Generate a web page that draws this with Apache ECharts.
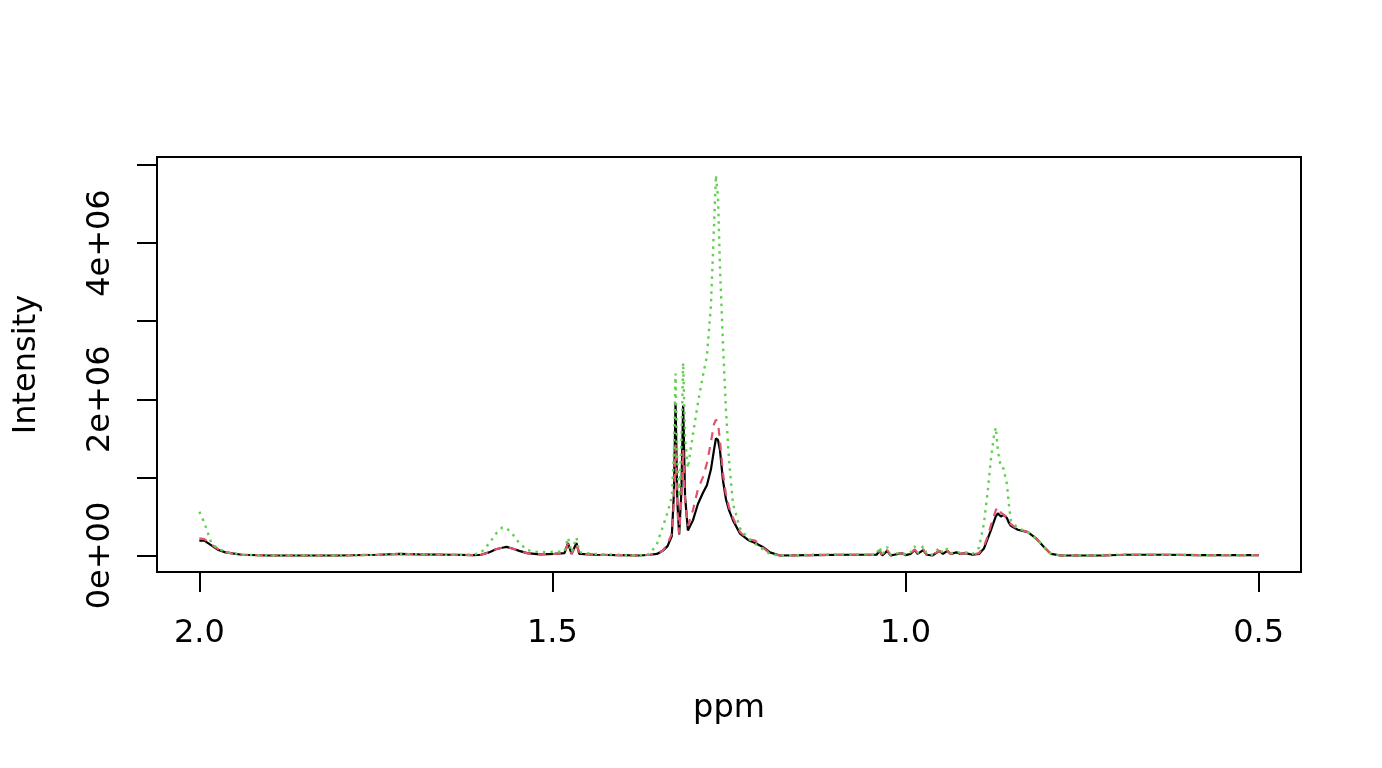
<!DOCTYPE html>
<html>
<head>
<meta charset="utf-8">
<script src="https://cdn.jsdelivr.net/npm/echarts@6/dist/echarts.min.js"></script>
<style>
  html, body { margin: 0; padding: 0; background: #ffffff; }
  #chart { width: 1382px; height: 768px; }
</style>
</head>
<body>
<div id="chart"></div>
<script>
// Chemical shift (ppm), shared by all three spectra
const ppm = [
  2.000, 1.993, 1.983, 1.973, 1.963, 1.940, 1.902, 1.859, 1.803, 1.746,
  1.717, 1.689, 1.646, 1.611, 1.601, 1.590, 1.580, 1.571, 1.565, 1.557,
  1.547, 1.536, 1.518, 1.497, 1.483, 1.478, 1.473, 1.466, 1.462, 1.440,
  1.405, 1.376, 1.362, 1.352, 1.344, 1.337, 1.331, 1.328, 1.3257, 1.3232,
  1.3206, 1.3175, 1.3149, 1.3122, 1.3082, 1.3011, 1.294, 1.287, 1.2813, 1.2756,
  1.2713, 1.2685, 1.2656, 1.2628, 1.2585, 1.2543, 1.250, 1.2443, 1.2344, 1.223,
  1.213, 1.202, 1.192, 1.178, 1.135, 1.078, 1.050, 1.041, 1.037, 1.033,
  1.026, 1.021, 1.005, 1.000, 0.993, 0.987, 0.983, 0.975, 0.970, 0.962,
  0.952, 0.947, 0.941, 0.936, 0.928, 0.922, 0.915, 0.905, 0.896, 0.889,
  0.8835, 0.8793, 0.875, 0.8722, 0.8693, 0.865, 0.8608, 0.8587, 0.8565, 0.8537,
  0.8509, 0.841, 0.8267, 0.8153, 0.804, 0.794, 0.780, 0.723, 0.6875, 0.638,
  0.581, 0.500
];

// Intensities in millions (×1e6)
const spectrum1 = [ // black, solid
  0.19, 0.19, 0.13, 0.07, 0.04, 0.01, 0.0, 0.0, 0.0, 0.01,
  0.02, 0.015, 0.01, 0.005, 0.01, 0.04, 0.08, 0.10, 0.11, 0.09,
  0.06, 0.03, 0.015, 0.02, 0.03, 0.16, 0.02, 0.16, 0.02, 0.01,
  0.005, 0.0, 0.01, 0.02, 0.06, 0.12, 0.25, 0.8, 1.95, 0.7,
  0.27, 0.8, 1.92, 0.75, 0.32, 0.45, 0.66, 0.80, 0.90, 1.10,
  1.35, 1.50, 1.48, 1.35, 0.96, 0.72, 0.58, 0.45, 0.28, 0.20,
  0.16, 0.11, 0.04, 0.0, 0.005, 0.01, 0.01, 0.01, 0.06, 0.0,
  0.06, 0.0, 0.03, 0.005, 0.02, 0.07, 0.02, 0.07, 0.01, 0.0,
  0.06, 0.02, 0.06, 0.02, 0.04, 0.02, 0.03, 0.01, 0.02, 0.09,
  0.22, 0.32, 0.43, 0.50, 0.54, 0.50, 0.52, 0.53, 0.48, 0.42,
  0.38, 0.33, 0.30, 0.22, 0.11, 0.02, 0.0, 0.0, 0.01, 0.01,
  0.005, 0.005
];
const spectrum2 = [ // red, dashed
  0.22, 0.21, 0.14, 0.08, 0.04, 0.01, 0.0, 0.0, 0.0, 0.01,
  0.02, 0.015, 0.01, 0.005, 0.01, 0.04, 0.08, 0.10, 0.11, 0.09,
  0.06, 0.03, 0.015, 0.02, 0.03, 0.15, 0.02, 0.15, 0.02, 0.01,
  0.005, 0.0, 0.01, 0.02, 0.06, 0.15, 0.28, 0.7, 1.42, 0.6,
  0.28, 0.7, 1.35, 0.7, 0.38, 0.58, 0.85, 1.0, 1.18, 1.45,
  1.68, 1.74, 1.70, 1.47, 1.05, 0.78, 0.62, 0.48, 0.30, 0.21,
  0.19, 0.10, 0.03, 0.0, 0.005, 0.01, 0.01, 0.01, 0.07, 0.0,
  0.07, 0.0, 0.03, 0.01, 0.02, 0.08, 0.03, 0.08, 0.01, 0.01,
  0.06, 0.02, 0.06, 0.02, 0.04, 0.02, 0.03, 0.01, 0.03, 0.12,
  0.25, 0.38, 0.50, 0.58, 0.62, 0.55, 0.52, 0.52, 0.49, 0.44,
  0.40, 0.34, 0.30, 0.22, 0.11, 0.02, 0.0, 0.0, 0.01, 0.01,
  0.005, 0.005
];
const spectrum3 = [ // green, dotted
  0.56, 0.42, 0.16, 0.08, 0.05, 0.01, 0.0, 0.005, 0.0, 0.01,
  0.02, 0.015, 0.01, 0.01, 0.04, 0.15, 0.28, 0.36, 0.35, 0.28,
  0.16, 0.07, 0.04, 0.05, 0.05, 0.23, 0.04, 0.23, 0.04, 0.02,
  0.01, 0.0, 0.02, 0.15, 0.36, 0.55, 0.75, 1.3, 2.33, 1.2,
  0.75, 1.4, 2.47, 1.5, 1.12, 1.55, 1.95, 2.3, 2.55, 3.2,
  4.2, 4.87, 4.6, 3.7, 2.7, 1.86, 1.22, 0.66, 0.35, 0.22,
  0.15, 0.08, 0.02, 0.0, 0.01, 0.015, 0.015, 0.01, 0.11, 0.01,
  0.11, 0.01, 0.04, 0.01, 0.04, 0.12, 0.03, 0.12, 0.02, 0.01,
  0.10, 0.03, 0.09, 0.03, 0.05, 0.03, 0.04, 0.02, 0.10, 0.41,
  0.83, 1.22, 1.52, 1.64, 1.34, 1.13, 1.11, 1.0, 0.92, 0.66,
  0.45, 0.35, 0.30, 0.22, 0.11, 0.02, 0.0, 0.005, 0.015, 0.01,
  0.005, 0.005
];

const xTicks = [2.0, 1.5, 1.0, 0.5];
const yTicks = [0, 1e6, 2e6, 3e6, 4e6, 5e6];
const yLabels = [0, 2e6, 4e6];

function pairs(vals) {
  return ppm.map((p, i) => [p, vals[i] * 1e6]);
}
function sci(v) {
  if (v === 0) return '0e+00';
  const e = Math.floor(Math.log10(Math.abs(v)));
  const m = Math.round(v / Math.pow(10, e));
  return m + 'e+' + String(e).padStart(2, '0');
}

const FONT = 'DejaVu Sans';
const chart = echarts.init(document.getElementById('chart'), null, { renderer: 'canvas' });
chart.setOption({
  animation: false,
  backgroundColor: '#ffffff',
  grid: {
    left: 157, right: 81, top: 157, bottom: 196,
    show: true, borderColor: '#000000', borderWidth: 2
  },
  xAxis: {
    type: 'value',
    inverse: true,
    min: 0.44, max: 2.06,
    name: 'ppm',
    nameLocation: 'middle',
    nameGap: 121,
    nameTextStyle: { fontFamily: FONT, fontSize: 32, color: '#000' },
    axisLine: { show: true, onZero: false, lineStyle: { color: '#000', width: 2 } },
    splitLine: { show: false },
    axisTick: { show: true, length: 20, lineStyle: { color: '#000', width: 2 }, customValues: xTicks },
    axisLabel: {
      show: true, margin: 46, fontFamily: FONT, fontSize: 32, color: '#000',
      customValues: xTicks,
      formatter: v => v.toFixed(1)
    }
  },
  yAxis: {
    type: 'value',
    min: -0.211e6, max: 5.102e6,
    name: 'Intensity',
    nameLocation: 'middle',
    nameRotate: 90,
    nameGap: 114,
    nameTextStyle: { fontFamily: FONT, fontSize: 32, color: '#000' },
    axisLine: { show: true, onZero: false, lineStyle: { color: '#000', width: 2 } },
    splitLine: { show: false },
    axisTick: { show: true, length: 20, lineStyle: { color: '#000', width: 2 }, customValues: yTicks },
    axisLabel: {
      show: true, rotate: 90, margin: 40, fontFamily: FONT, fontSize: 32, color: '#000',
      customValues: yLabels,
      formatter: v => sci(v)
    }
  },
  series: [
    {
      type: 'line', data: pairs(spectrum1), showSymbol: false, symbol: 'none',
      lineStyle: { color: '#000000', width: 2.2, type: 'solid' }
    },
    {
      type: 'line', data: pairs(spectrum2), showSymbol: false, symbol: 'none',
      lineStyle: { color: '#DF536B', width: 2.2, type: [8, 7] }
    },
    {
      type: 'line', data: pairs(spectrum3), showSymbol: false, symbol: 'none',
      lineStyle: { color: '#61D04F', width: 2.4, type: [2.5, 5] }
    }
  ]
});
</script>
</body>
</html>
